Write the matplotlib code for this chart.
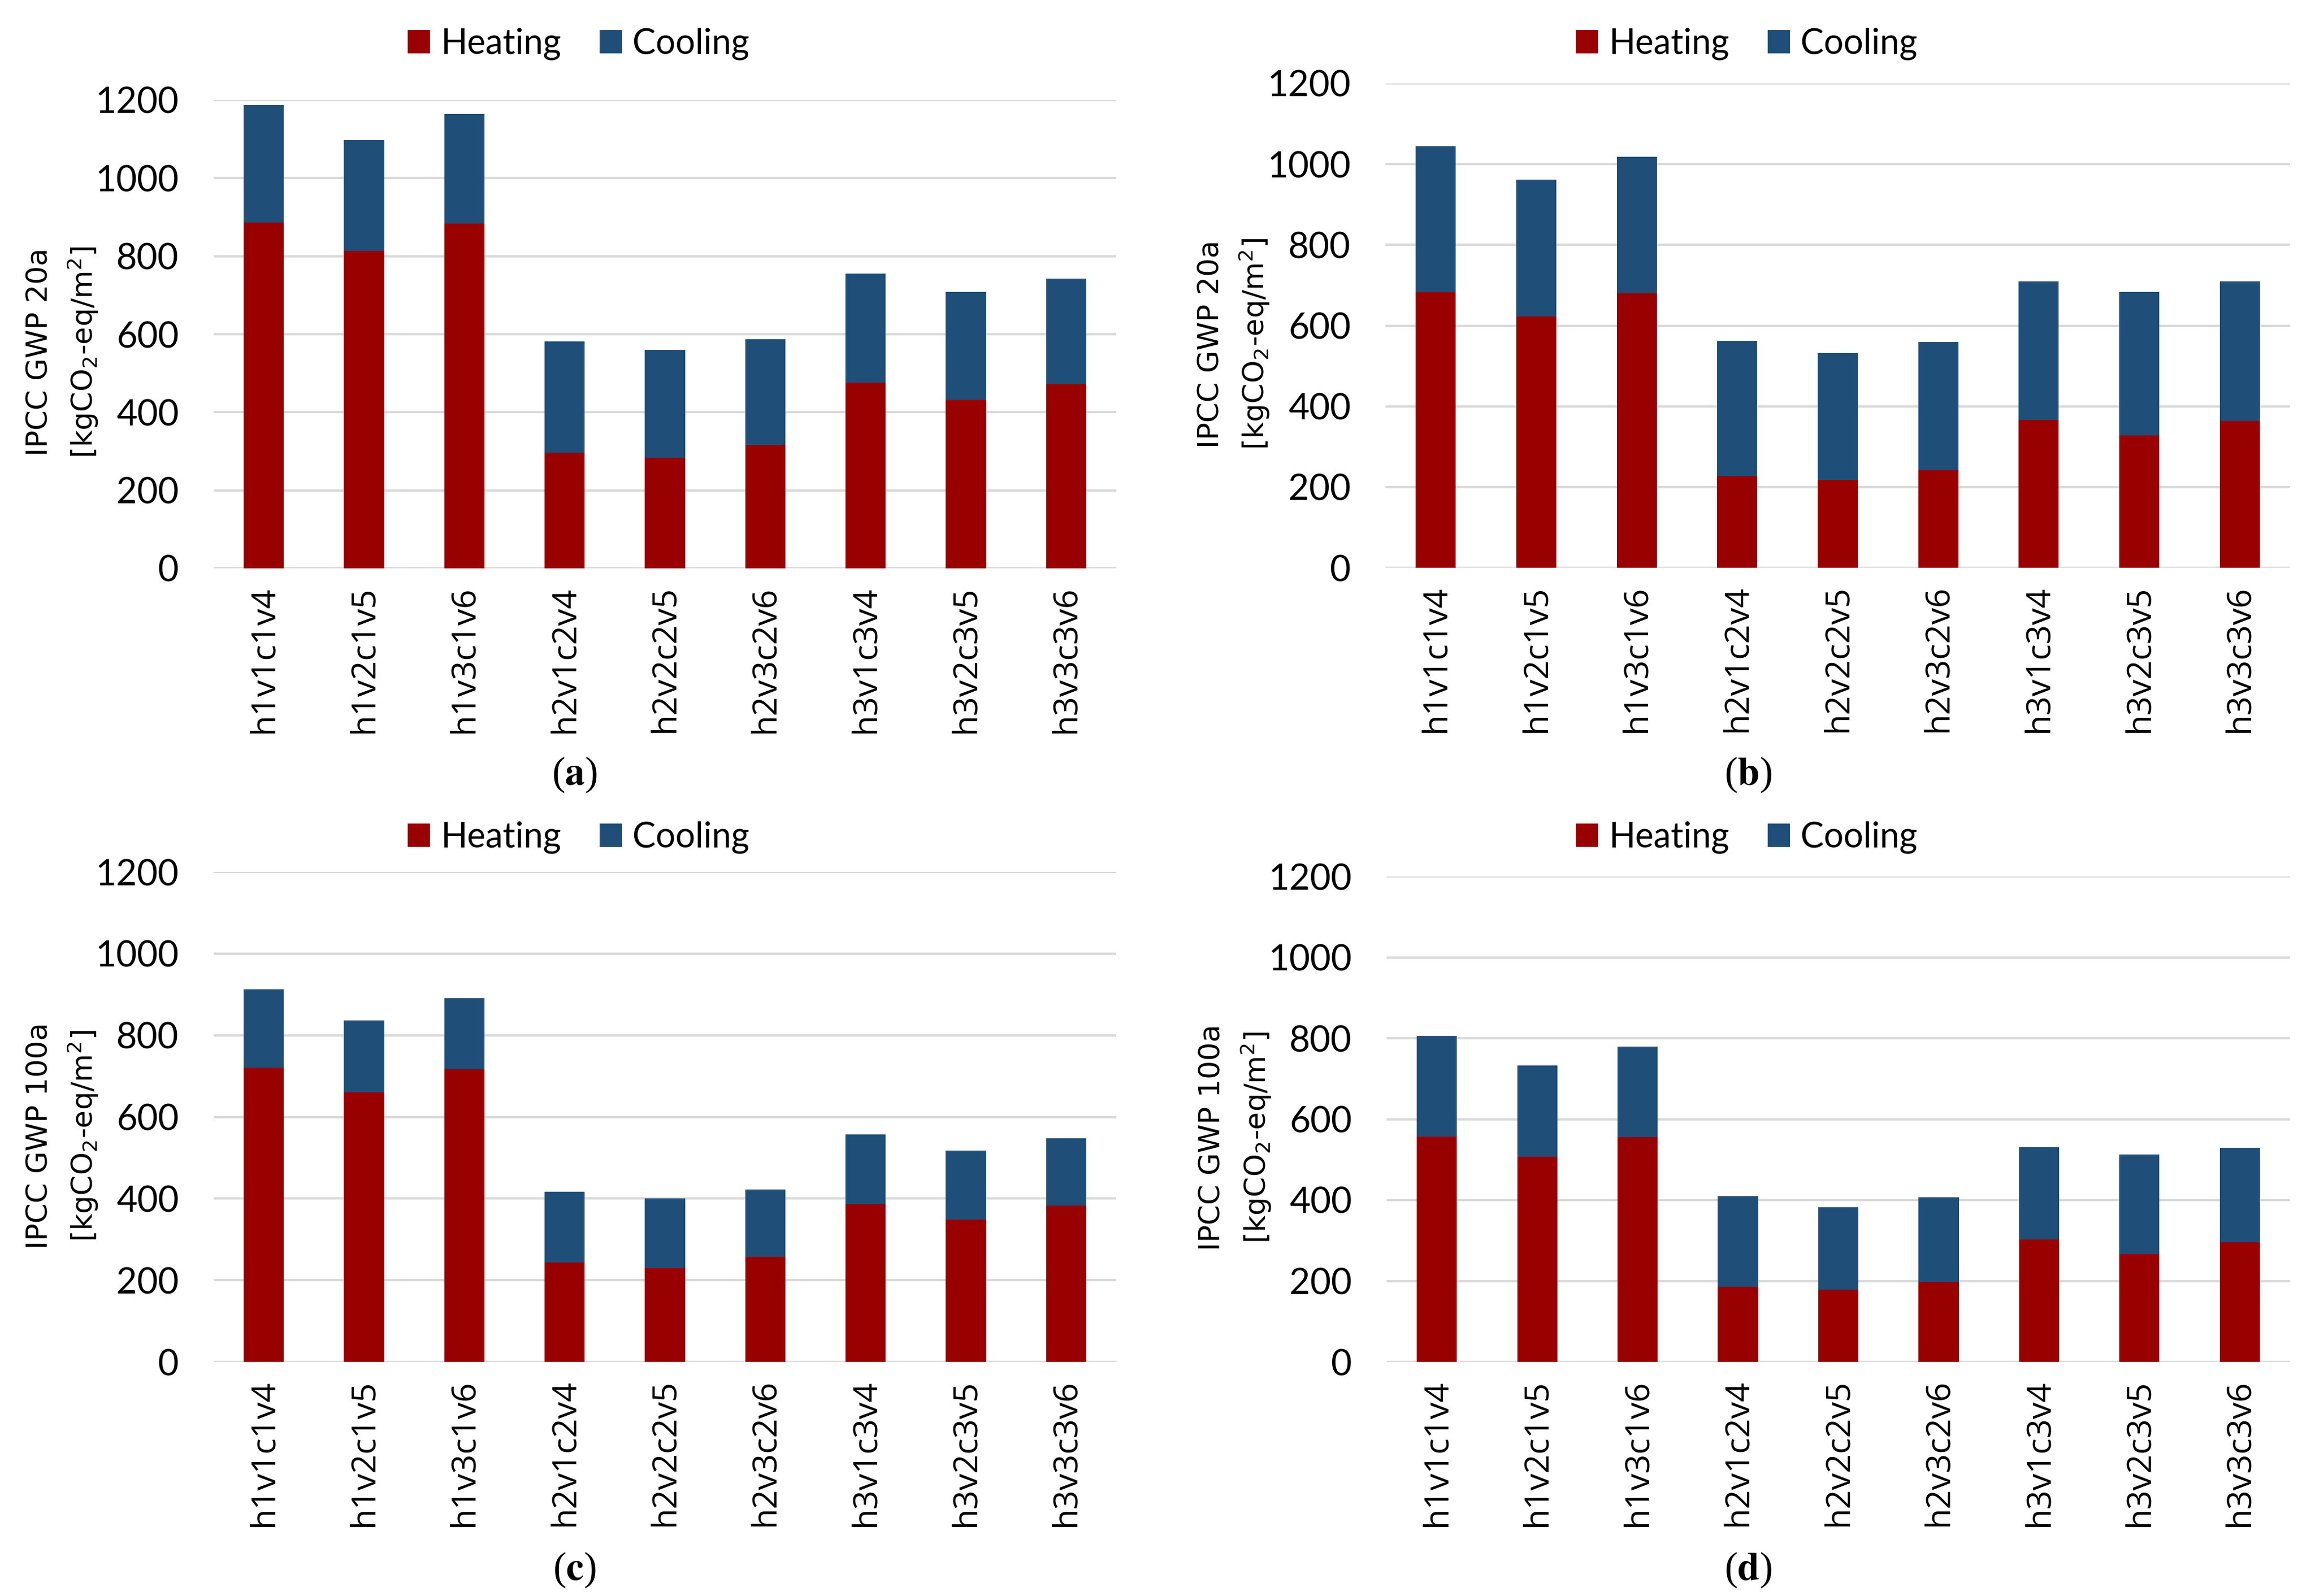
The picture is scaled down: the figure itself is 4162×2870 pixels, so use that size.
"""
Stacked heating/cooling GWP bars for the nine h-v-c-v system variants,
four panels: (a)/(b) GWP 20a, (c)/(d) GWP 100a.
"""

import matplotlib.pyplot as plt
import numpy as np

categories = ["h1v1c1v4", "h1v2c1v5", "h1v3c1v6",
              "h2v1c2v4", "h2v2c2v5", "h2v3c2v6",
              "h3v1c3v4", "h3v2c3v5", "h3v3c3v6"]

# values (kgCO2-eq/m2); cooling = total - heating
heat_a = [887, 814, 883, 297, 284, 317, 476, 432, 472]
total_a = [1187, 1097, 1164, 582, 560, 587, 755, 708, 742]
heat_b = [683, 623, 680, 227, 217, 242, 367, 328, 364]
total_b = [1045, 961, 1018, 562, 532, 560, 710, 683, 710]
heat_c = [720, 660, 717, 244, 230, 258, 387, 349, 383]
total_c = [912, 837, 891, 417, 400, 422, 557, 518, 547]
heat_d = [557, 507, 555, 186, 179, 198, 302, 267, 296]
total_d = [805, 733, 779, 409, 382, 407, 530, 513, 529]

yticks = [0, 200, 400, 600, 800, 1000, 1200]
ylabels = ["IPCC GWP 20a", "IPCC GWP 20a", "IPCC GWP 100a", "IPCC GWP 100a"]
panel_tags = ["a", "b", "c", "d"]

RED = "#990000"
BLUE = "#1f4e79"
GRID = "#d9d9d9"
NARROW = ["Lato", "Open Sans", "DejaVu Sans"]

W, H = 4162, 2870
fig = plt.figure(figsize=(W / 300, H / 300), dpi=300)

# axes boxes in pixels: (left, right, y of 1200 line, y of 0 line)
boxes = [(384, 2007, 180, 1022), (2491, 4117, 150, 1021),
         (384, 2007, 1568, 2449), (2493, 4117, 1576, 2449)]
legend_pos = [(1040, 79), (3140, 79), (1040, 1506), (3140, 1506)]
tag_pos = [(1033, 1393), (3143, 1393), (1033, 2823), (3143, 2823)]

data = [(heat_a, total_a), (heat_b, total_b),
        (heat_c, total_c), (heat_d, total_d)]

x = np.arange(len(categories))
for k, ((heat, total), (l, r, t, b)) in enumerate(zip(data, boxes)):
    ax = fig.add_axes([l / W, 1 - b / H, (r - l) / W, (b - t) / H])
    heat = np.array(heat)
    cool = np.array(total) - heat
    h1 = ax.bar(x, heat, width=0.4, color=RED, label="Heating", zorder=3)
    h2 = ax.bar(x, cool, width=0.4, bottom=heat, color=BLUE,
                label="Cooling", zorder=3)

    ax.set_xlim(-0.5, len(categories) - 0.5)
    ax.set_ylim(0, 1200)
    ax.set_yticks(yticks)
    ax.set_yticklabels([str(v) for v in yticks], family=NARROW, fontsize=15.5)
    ax.set_xticks(x)
    ax.set_xticklabels(categories, rotation=90, family="Open Sans",
                       fontsize=14.5)
    ax.tick_params(axis="both", length=0)
    ax.tick_params(axis="y", pad=15)
    ax.tick_params(axis="x", pad=7.5)
    for s in ax.spines.values():
        s.set_visible(False)
    ax.grid(axis="y", color=GRID, lw=1.0, zorder=0)
    ax.set_axisbelow(True)

    ax.set_ylabel(ylabels[k] + "\n" + r"[kgCO$_2$-eq/m$^2$]",
                  fontsize=12.5, va="center", linespacing=1.45)
    ax.yaxis.set_label_coords(-0.167, 0.462)

    lx, ly = legend_pos[k]
    fig.legend(handles=[h1, h2], loc="center", ncol=2,
               bbox_to_anchor=(lx / W, 1 - ly / H), frameon=False,
               prop={"family": NARROW, "size": 15},
               handlelength=0.65, handleheight=0.65, handletextpad=0.3,
               columnspacing=1.1)

    tx, ty = tag_pos[k]
    fig.text(tx / W, 1 - ty / H, "(" + r"$\mathbf{" + panel_tags[k] + "}$" + ")",
             ha="center", va="center", family="Liberation Serif",
             fontsize=17, math_fontfamily="stix")

fig.savefig("out.png", dpi=300)
